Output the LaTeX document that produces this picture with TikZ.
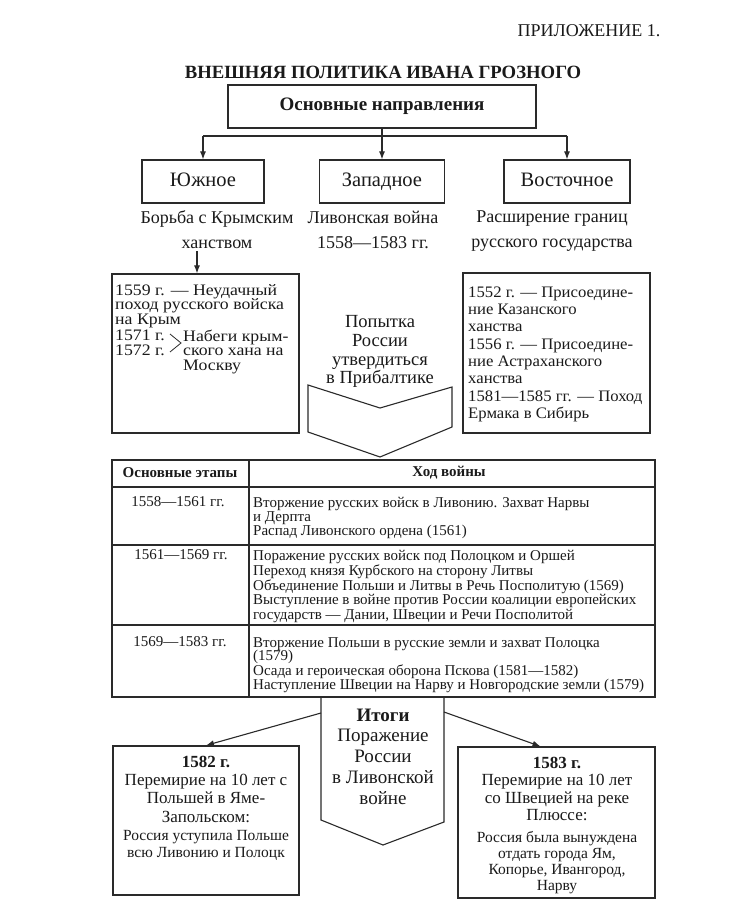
\documentclass[tikz,border=0pt]{standalone}
\usepackage{fontspec}
\setmainfont{Liberation Serif}
\usetikzlibrary{arrows.meta}
\definecolor{ink}{HTML}{1A1A1A}
\definecolor{linec}{HTML}{2A2A2A}
\begin{document}
\begin{tikzpicture}[x=1pt,y=-1pt,
  every node/.style={inner sep=0pt, text=ink},
  box/.style={draw=linec, line width=1.2pt},
  ln/.style={draw=linec, line width=1.1pt},
  arr/.style={draw=linec, line width=1.1pt, -{Latex[length=8pt,width=6pt]}},
  lbl/.style={font=\fontsize{20.5}{20.5}\selectfont, text height=14pt, text depth=4pt},
  desc/.style={font=\fontsize{18}{25}\selectfont, align=center, anchor=north},
  boxtxt/.style={font=\fontsize{16}{14.8}\selectfont, align=left, anchor=north west, xscale=1.11},
  tabtxt/.style={align=left, anchor=north west},
  tabhd/.style={font=\bfseries\fontsize{15}{15}\selectfont},
  tabdate/.style={font=\fontsize{15}{15}\selectfont},
  big/.style={font=\fontsize{17}{18.2}\selectfont, align=center, anchor=north},
  small/.style={font=\fontsize{15.5}{16.3}\selectfont, align=center, anchor=north}
]
\fill[white] (0,0) rectangle (746,917);
\useasboundingbox (0,0) rectangle (746,917);

% header
\node[font=\fontsize{18}{18}\selectfont] (app) at (589,31) {ПРИЛОЖЕНИЕ 1.};
\node[font=\bfseries\fontsize{18.7}{18.7}\selectfont] (title) at (383,72) {ВНЕШНЯЯ ПОЛИТИКА ИВАНА ГРОЗНОГО};
\node[box, minimum width=308pt, minimum height=43pt, font=\bfseries\fontsize{19}{19}\selectfont, text height=13pt, text depth=4pt] (top) at (382,106.5) {Основные направления};

% directions
\node[box, lbl, minimum width=122pt, minimum height=43pt] (yuzh) at (203,181.5) {Южное};
\node[box, lbl, minimum width=125pt, minimum height=43pt] (zap) at (382,181.5) {Западное};
\node[box, lbl, minimum width=126pt, minimum height=43pt] (vost) at (567,181.5) {Восточное};

\coordinate (jL) at (203,136);
\coordinate (jR) at (567,136);
\draw[ln] (jL) -- (jR);
\draw[arr] (top.south) -- (zap.north);
\draw[arr] (jL) -- (yuzh.north);
\draw[arr] (jR) -- (vost.north);

\node[desc] (sdesc) at (217,210.5) {Борьба с Крымским\\ханством};
\node[desc] (wdesc) at (373,210.5) {Ливонская война\\1558—1583 гг.};
\node[desc] (edesc) at (552,210.5) {Расширение границ\\русского государства};

% left box
\node[box, minimum width=187pt, minimum height=159pt] (lbox) at (205.5,353.5) {};
\coordinate (sa) at (197,251);
\draw[arr] (sa) -- (sa |- lbox.north);
\node[boxtxt] (l1) at (115,284) {1559 г. — Неудачный\\поход русского войска\\на Крым};
\node[boxtxt] (l2) at (115,329.5) {1571 г.\\1572 г.};
\node[boxtxt] (l3) at (183,329.5) {Набеги крым-\\ского хана на\\Москву};
\draw[ln, line width=0.8pt] (170,334) -- (181,343) -- (170,352);

% right box
\node[box, minimum width=187pt, minimum height=160pt] (rbox) at (556.5,353) {};
\node[boxtxt, xscale=0.94, font=\fontsize{16}{17.3}\selectfont] (r1) at (468,286.5) {1552 г. — Присоедине-\\ние Казанского\\ханства\\1556 г. — Присоедине-\\ние Астраханского\\ханства\\1581—1585 гг. — Поход\\Ермака в Сибирь};

% middle
\node[font=\fontsize{18.5}{18.7}\selectfont, align=center, anchor=north] (goal) at (380,315.5) {Попытка\\России\\утвердиться\\в Прибалтике};
\draw[ln] (308,385) -- (380,408) -- (452,387) -- (452,427) -- (380,457) -- (308,432) -- cycle;

% table
\node[box, minimum width=543pt, minimum height=237pt] (tbl) at (383.5,578.5) {};
\draw[ln] (249,460) -- (249,697);
\draw[ln] (112,487) -- (655,487);
\draw[ln] (112,545) -- (655,545);
\draw[ln] (112,625) -- (655,625);
\node[tabhd] (h1) at (180,473) {Основные этапы};
\node[tabhd] (h2) at (449,473) {Ход войны};
\node[tabdate] (d1) at (178,502) {1558—1561 гг.};
\node[tabdate] (d2) at (181,555) {1561—1569 гг.};
\node[tabdate] (d3) at (180,642) {1569—1583 гг.};
\node[tabtxt, font=\fontsize{15}{14}\selectfont] (t1) at (253,497) {Вторжение русских войск в Ливонию. Захват Нарвы\\и Дерпта\\Распад Ливонского ордена (1561)};
\node[tabtxt, font=\fontsize{15}{13.3}\selectfont] (t2) at (253,550) {Поражение русских войск под Полоцком и Оршей\\Переход князя Курбского на сторону Литвы\\Объединение Польши и Литвы в Речь Посполитую (1569)\\Выступление в войне против России коалиции европейских\\государств — Дании, Швеции и Речи Посполитой};
\node[tabtxt, font=\fontsize{15}{13.7}\selectfont] (t3) at (253,637) {Вторжение Польши в русские земли и захват Полоцка\\(1579)\\Осада и героическая оборона Пскова (1581—1582)\\Наступление Швеции на Нарву и Новгородские земли (1579)};

% results
\draw[ln] (321,697) -- (321,820) -- (383,845) -- (444,822) -- (444,697);
\node[font=\fontsize{19}{20.8}\selectfont, align=center, anchor=north] (res) at (383,708.5) {\textbf{Итоги}\\Поражение\\России\\в Ливонской\\войне};
\coordinate (aL) at (321,713);
\coordinate (aR) at (444,712);

\node[box, minimum width=186pt, minimum height=149pt] (b82) at (206,820.5) {};
\node[box, minimum width=197pt, minimum height=151pt] (b83) at (556.5,822.5) {};
\draw[arr] (aL) -- (b82.north);
\draw[arr] (aR) -- ([xshift=-16pt]b83.north);

\node[big] (b82a) at (206,756) {\textbf{1582 г.}\\Перемирие на 10 лет с\\Польшей в Яме-\\Запольском:};
\node[small] (b82b) at (206,830.5) {Россия уступила Польше\\всю Ливонию и Полоцк};
\node[big, font=\fontsize{17}{17.3}\selectfont] (b83a) at (557,757) {\textbf{1583 г.}\\Перемирие на 10 лет\\со Швецией на реке\\Плюссе:};
\node[small, font=\fontsize{15.5}{16}\selectfont] (b83b) at (557,831.5) {Россия была вынуждена\\отдать города Ям,\\Копорье, Ивангород,\\Нарву};
\end{tikzpicture}
\end{document}
